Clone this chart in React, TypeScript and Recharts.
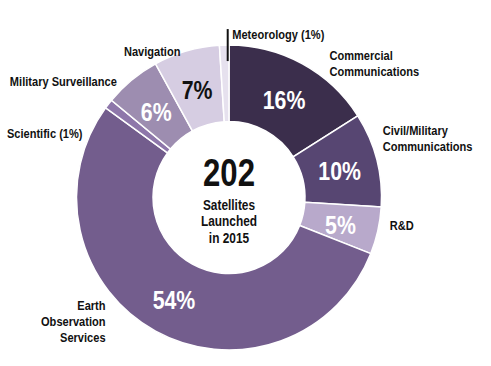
import { PieChart, Pie, Cell } from "recharts";

const categories = [
  "Commercial Communications",
  "Civil/Military Communications",
  "R&D",
  "Earth Observation Services",
  "Scientific",
  "Military Surveillance",
  "Navigation",
  "Meteorology",
];
const shares = [16, 10, 5, 54, 1, 6, 7, 1];
const outsideLabels = [
  ["Commercial", "Communications"],
  ["Civil/Military", "Communications"],
  ["R&D"],
  ["Earth", "Observation", "Services"],
  ["Scientific (1%)"],
  ["Military Surveillance"],
  ["Navigation"],
  ["Meteorology (1%)"],
];
const showInside = [true, true, true, true, false, true, true, false];
const totalLaunched = 202;
const centerLines = ["Satellites", "Launched", "in 2015"];

const COLORS = ["#3b2e4c", "#574672", "#b8a9cb", "#735d8d", "#8e77aa", "#9d8db0", "#d6cde2", "#e6e1ee"];
const INSIDE_TEXT = ["#fff", "#fff", "#fff", "#fff", "#fff", "#fff", "#111", "#111"];
// offset of the outside label from the slice's outer edge point: [dx, dy, anchor]
const LABEL_OFFSETS: [number, number, "start" | "end"][] = [
  [27, -4, "start"],
  [6, -25, "start"],
  [12, -1, "start"],
  [-50, -21, "end"],
  [-26, 34, "end"],
  [-15, 6, "end"],
  [-6, 5, "end"],
  [8, -6, "start"],
];

const FONT = "'Liberation Sans', Arial, sans-serif";
const SQUEEZE = 0.82; // fake Arial Narrow
const RAD = Math.PI / 180;

const data = categories.map((name, i) => ({ name, value: shares[i] }));

function Narrow({ x, y, size, anchor = "start", fill = "#111", baseline, children }: any) {
  return (
    <text
      transform={`translate(${x},${y}) scale(${SQUEEZE},1)`}
      x={0}
      y={0}
      textAnchor={anchor}
      dominantBaseline={baseline}
      fill={fill}
      fontFamily={FONT}
      fontWeight="bold"
      fontSize={size}
    >
      {children}
    </text>
  );
}

function renderLabel(props: any) {
  const { cx, cy, midAngle, innerRadius, outerRadius, index } = props;
  const cos = Math.cos(-midAngle * RAD);
  const sin = Math.sin(-midAngle * RAD);
  const rMid = (innerRadius + outerRadius) / 2;
  const ix = cx + rMid * cos;
  const iy = cy + rMid * sin + 2;
  const ox = cx + outerRadius * cos;
  const oy = cy + outerRadius * sin;
  const [dx, dy, anchor] = LABEL_OFFSETS[index];
  const lines = outsideLabels[index];
  return (
    <g key={`lbl-${index}`}>
      {index === 0 && (
        <g>
          <Narrow x={cx} y={cy - 12} size={38} anchor="middle">
            {totalLaunched}
          </Narrow>
          {centerLines.map((l, j) => (
            <Narrow key={j} x={cx} y={cy + 12 + j * 16.5} size={14.5} anchor="middle">
              {l}
            </Narrow>
          ))}
        </g>
      )}
      {showInside[index] && (
        <Narrow x={ix} y={iy} size={26} anchor="middle" baseline="central" fill={INSIDE_TEXT[index]}>
          {`${shares[index]}%`}
        </Narrow>
      )}
      {index === categories.length - 1 && (
        <line x1={ox + 3.5} y1={oy - 16} x2={ox + 3.5} y2={oy + 16} stroke="#111" strokeWidth={2} />
      )}
      {lines.map((l, j) => (
        <Narrow key={j} x={ox + dx} y={oy + dy + j * 16} size={13.5} anchor={anchor}>
          {l}
        </Narrow>
      ))}
    </g>
  );
}

export default function App() {
  return (
    <div style={{ position: "absolute", left: 0, top: 0, width: 491, height: 366, background: "#fff" }}>
      <PieChart width={491} height={366} margin={{ top: 0, right: 0, bottom: 0, left: 0 }}>
        <Pie
          data={data}
          dataKey="value"
          nameKey="name"
          cx={229}
          cy={197.5}
          innerRadius={76}
          outerRadius={152.5}
          startAngle={90}
          endAngle={-270}
          stroke="#fff"
          strokeWidth={1.5}
          label={renderLabel}
          labelLine={false}
          isAnimationActive={false}
        >
          {data.map((_, i) => (
            <Cell key={`cell-${i}`} fill={COLORS[i]} />
          ))}
        </Pie>
      </PieChart>
    </div>
  );
}
